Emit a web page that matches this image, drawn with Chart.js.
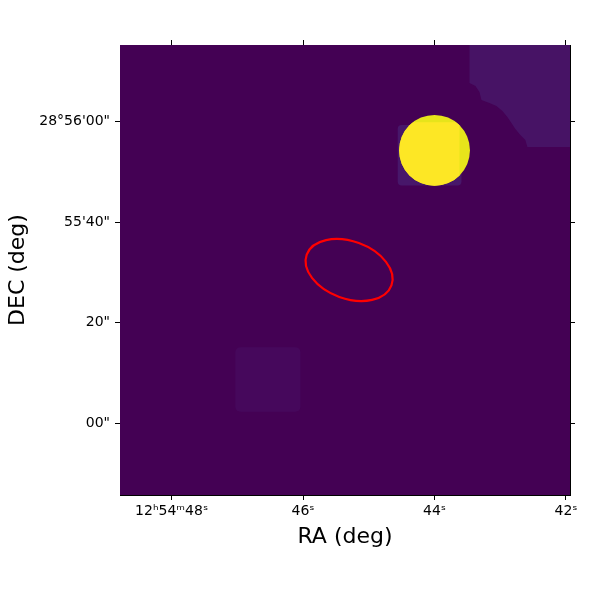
<!DOCTYPE html>
<html>
<head>
<meta charset="utf-8">
<script src="https://cdn.jsdelivr.net/npm/chart.js@4.4.1/dist/chart.umd.min.js"></script>
<style>
  html, body { margin: 0; padding: 0; background: #fff; }
  #wrap { width: 600px; height: 600px; }
</style>
</head>
<body>
<div id="wrap"><canvas id="skyChart" width="600" height="600"></canvas></div>
<script>
// RA in seconds past 12h54m, Dec in arcsec past 28°55'
const raTicks = [42, 44, 46, 48];
const raLabels = ['42ˢ', '44ˢ', '46ˢ', '12ʰ54ᵐ48ˢ'];
const decTicks = [0, 20, 40, 60];
const decLabels = ['00"', '20"', '55\'40"', '28°56\'00"'];

const raLimits = [41.939, 48.785];
const decLimits = [-14.26, 75.26];

// bright source: RA, Dec, radius (")
const source = [44.00, 54.3, 7.05];
// brighter part of the source: RA east of, Dec below
const sourceCore = [43.62, 59.9];
// faint tiles: RA east, RA west, Dec top, Dec bottom
const tileNearSource = [44.56, 43.59, 59.35, 47.31];
const tileLowerLeft = [47.03, 46.04, 15.12, 2.32];
// outline of the upper right footprint
const edgeRA = [43.468, 43.468, 43.377, 43.316, 43.286, 43.165, 43.058, 42.967, 42.891, 42.830, 42.770, 42.694, 42.618, 42.587, 41.8, 41.8];
const edgeDec = [76.5, 67.70, 67.10, 65.91, 64.32, 63.72, 63.13, 62.13, 60.94, 59.74, 58.55, 57.36, 56.36, 54.97, 54.97, 76.5];
// red region: RA, Dec, semi-major ("), semi-minor ("), rotation (deg)
const ellipse = [45.30, 30.5, 8.97, 5.70, 20];

const edgePoints = edgeRA.map((ra, i) => ({ x: ra, y: edgeDec[i] }));

function roundRect(ctx, x0, y0, x1, y1, r) {
    const x = Math.min(x0, x1), y = Math.min(y0, y1);
    const w = Math.abs(x1 - x0), h = Math.abs(y1 - y0);
    ctx.beginPath();
    ctx.roundRect(x, y, w, h, r);
    ctx.fill();
}

function clipArea(ctx, a) {
    ctx.beginPath();
    ctx.rect(a.left, a.top, a.right - a.left, a.bottom - a.top);
    ctx.clip();
}

const skyPlugin = {
    id: 'sky',
    beforeDatasetsDraw(chart) {
        const { ctx, chartArea: a, scales: { x, y } } = chart;
        ctx.save();
        clipArea(ctx, a);
        ctx.fillStyle = '#440154';
        ctx.fillRect(a.left, a.top, a.right - a.left, a.bottom - a.top);

        // faint footprint, upper right
        ctx.beginPath();
        edgePoints.forEach((p, i) => {
            const px = x.getPixelForValue(p.x), py = y.getPixelForValue(p.y);
            if (i === 0) ctx.moveTo(px, py); else ctx.lineTo(px, py);
        });
        ctx.closePath();
        ctx.fillStyle = '#471365';
        ctx.fill();

        ctx.fillStyle = '#46085c';
        roundRect(ctx, x.getPixelForValue(tileLowerLeft[0]), y.getPixelForValue(tileLowerLeft[2]),
            x.getPixelForValue(tileLowerLeft[1]), y.getPixelForValue(tileLowerLeft[3]), 5);
        ctx.fillStyle = '#47176a';
        roundRect(ctx, x.getPixelForValue(tileNearSource[0]), y.getPixelForValue(tileNearSource[2]),
            x.getPixelForValue(tileNearSource[1]), y.getPixelForValue(tileNearSource[3]), 4);
        ctx.restore();
    },
    afterDatasetsDraw(chart) {
        const { ctx, chartArea: a, scales: { x, y } } = chart;
        const arcsec = v => Math.abs(y.getPixelForValue(v) - y.getPixelForValue(0));
        ctx.save();
        clipArea(ctx, a);

        // source
        const cx = x.getPixelForValue(source[0]), cy = y.getPixelForValue(source[1]);
        ctx.beginPath();
        ctx.arc(cx, cy, arcsec(source[2]), 0, Math.PI * 2);
        ctx.fillStyle = '#e7e41b';
        ctx.fill();
        ctx.clip();
        ctx.fillStyle = '#fde725';
        const coreX = x.getPixelForValue(sourceCore[0]), coreY = y.getPixelForValue(sourceCore[1]);
        ctx.fillRect(a.left, coreY, coreX - a.left, a.bottom - coreY);
        ctx.restore();

        // region ellipse
        ctx.save();
        ctx.beginPath();
        ctx.ellipse(x.getPixelForValue(ellipse[0]), y.getPixelForValue(ellipse[1]),
            arcsec(ellipse[2]), arcsec(ellipse[3]), ellipse[4] * Math.PI / 180, 0, Math.PI * 2);
        ctx.strokeStyle = '#ff0000';
        ctx.lineWidth = 2.2;
        ctx.stroke();
        ctx.restore();
    }
};

const tickFont = { family: 'DejaVu Sans', size: 14 };
const titleFont = { family: 'DejaVu Sans', size: 22 };
const grid = { drawOnChartArea: false, drawTicks: true, tickLength: 5, tickColor: '#000', tickWidth: 1 };
const border = { display: true, color: '#000', width: 1 };

const ctxSky = document.getElementById('skyChart').getContext('2d');
new Chart(ctxSky, {
    type: 'scatter',
    data: {
        datasets: [{
            data: edgePoints,
            showLine: false,
            pointRadius: 0,
            borderWidth: 0
        }]
    },
    options: {
        responsive: false,
        animation: false,
        events: [],
        layout: { padding: { left: 5, right: 0, top: 0, bottom: 50 } },
        plugins: {
            legend: { display: false },
            tooltip: { enabled: false }
        },
        scales: {
            x: {
                type: 'linear', position: 'bottom', reverse: true, z: 1,
                min: raLimits[0], max: raLimits[1],
                afterBuildTicks: s => { s.ticks = raTicks.map(v => ({ value: v })); },
                afterFit: s => { s.height = 55; },
                ticks: {
                    font: tickFont, color: '#000', padding: 3, maxRotation: 0, autoSkip: false,
                    callback: v => raLabels[raTicks.indexOf(v)]
                },
                grid, border,
                title: { display: true, text: 'RA (deg)', font: titleFont, color: '#000', padding: 0 }
            },
            x2: {
                type: 'linear', position: 'top', reverse: true, z: 1,
                min: raLimits[0], max: raLimits[1],
                afterBuildTicks: s => { s.ticks = raTicks.map(v => ({ value: v })); },
                afterFit: s => { s.height = 45; },
                ticks: { display: false },
                grid, border
            },
            y: {
                type: 'linear', position: 'left', z: 1,
                min: decLimits[0], max: decLimits[1],
                afterBuildTicks: s => { s.ticks = decTicks.map(v => ({ value: v })); },
                afterFit: s => { s.width = 115; },
                ticks: {
                    font: tickFont, color: '#000', padding: 5, autoSkip: false,
                    callback: v => decLabels[decTicks.indexOf(v)]
                },
                grid, border,
                title: { display: true, text: 'DEC (deg)', font: titleFont, color: '#000', padding: 0 }
            },
            y2: {
                type: 'linear', position: 'right', z: 1,
                min: decLimits[0], max: decLimits[1],
                afterBuildTicks: s => { s.ticks = decTicks.map(v => ({ value: v })); },
                afterFit: s => { s.width = 30; },
                ticks: { display: false },
                grid, border
            }
        }
    },
    plugins: [skyPlugin]
});
</script>
</body>
</html>
